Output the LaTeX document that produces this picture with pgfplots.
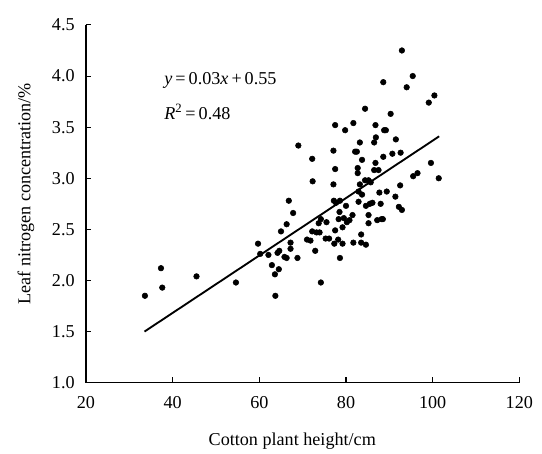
\documentclass[border=0pt]{standalone}
\usepackage{fontspec}
\setmainfont{Liberation Serif}
\usepackage{pgfplots}
\pgfplotsset{compat=1.18}

\pgfplotstableread{
x y
33.6 1.85
37.3 2.12
37.6 1.93
45.5 2.04
54.6 1.98
59.7 2.36
60.2 2.26
62.1 2.25
62.9 2.15
63.6 2.06
63.7 1.85
64.5 2.11
64.2 2.27
64.6 2.29
65.0 2.48
66.3 2.55
65.8 2.23
66.3 2.22
66.8 2.78
67.2 2.37
67.2 2.31
67.8 2.66
68.8 2.22
69.0 3.32
71.0 2.40
71.8 2.39
72.2 3.19
72.3 2.97
72.2 2.48
72.9 2.29
73.2 2.47
73.9 2.47
74.2 1.98
73.7 2.56
74.2 2.60
75.5 2.57
75.3 2.41
76.1 2.41
77.1 3.27
77.1 2.94
77.5 3.52
77.5 3.09
77.2 2.78
77.7 2.76
77.5 2.49
77.3 2.36
78.2 2.40
78.3 2.60
78.5 2.67
78.6 2.78
78.6 2.22
79.2 2.52
79.2 2.36
79.8 3.47
79.5 2.61
80.0 2.73
80.2 2.57
80.8 2.59
81.7 3.54
81.7 2.37
81.5 2.64
82.1 3.26
82.5 3.26
82.7 3.10
82.7 3.05
82.9 2.87
82.9 2.77
83.2 3.35
83.2 2.94
83.5 2.45
83.5 2.37
83.7 3.18
83.7 2.84
84.4 3.68
84.4 2.98
84.6 2.73
84.6 2.35
85.2 2.98
85.2 2.64
85.2 2.56
85.5 2.75
85.7 2.96
86.1 2.76
86.5 3.35
86.5 3.08
86.8 3.52
86.9 3.40
86.8 3.15
87.2 2.59
87.5 3.08
87.7 2.86
88.0 2.75
88.2 2.60
88.5 2.60
88.6 3.94
88.6 3.21
88.8 3.47
89.2 3.47
89.4 2.87
90.3 3.63
90.7 3.24
91.4 2.82
91.5 3.38
92.2 2.72
92.5 2.93
92.6 3.25
92.9 2.69
92.9 4.25
94.0 3.89
95.4 4.00
95.5 3.02
96.5 3.05
99.1 3.74
99.6 3.15
100.4 3.81
101.4 3.00
}\heightdata

\pgfplotstableread{
x y
33.5 1.50
101.5 3.41
}\fitline

\begin{document}
\begin{tikzpicture}[font=\fontsize{13.6}{15}\selectfont]
\begin{axis}[
    scale only axis,
    width  = 325pt,
    height = 268.3pt,
    xmin = 20, xmax = 120,
    ymin = 1.0, ymax = 4.5,
    xtick = {20,40,...,120},
    ytick = {1.0,1.5,...,4.5},
    yticklabel style = {/pgf/number format/fixed,
                        /pgf/number format/fixed zerofill,
                        /pgf/number format/precision=1,
                        anchor=east, xshift=-5pt},
    /pgf/number format/assume math mode=true,
    axis x line = bottom,
    axis y line = left,
    axis line style = {-, line width=0.9pt},
    tick align = inside,
    tick style = {black, line width=0.8pt},
    major tick length = 4pt,
    ticklabel style = {font=\fontsize{13.6}{15}\selectfont},
    xticklabel style = {anchor=north, yshift=-7pt},
    label style = {font=\fontsize{13.6}{15}\selectfont},
    xlabel = {Cotton plant height/cm},
    ylabel = {Leaf nitrogen concentration/\%},
    xlabel style = {at={(axis description cs:0.476,0)}, anchor=center, yshift=-43.5pt},
    ylabel style = {at={(axis description cs:-0.1385,0.528)}, anchor=center},
    clip = false,
]
\addplot[only marks, mark=*, mark size=2.1pt, black] table {\heightdata};
\addplot[black, line width=1.4pt] table {\fitline};
\node[anchor=west] at (axis cs:37.0,3.96)
    {\textit{y}\,=\,0.03\textit{x}\,+\,0.55};
\node[anchor=west] at (axis cs:37.0,3.65)
    {\textit{R}\textsuperscript{2}\,=\,0.48};
\end{axis}
\path (current axis.south west) ++(-64.5pt,-50.2pt) coordinate (bbA);
\path (current axis.north east) ++(17pt,18.7pt) coordinate (bbB);
\path (bbA) (bbB);
\end{tikzpicture}
\end{document}
